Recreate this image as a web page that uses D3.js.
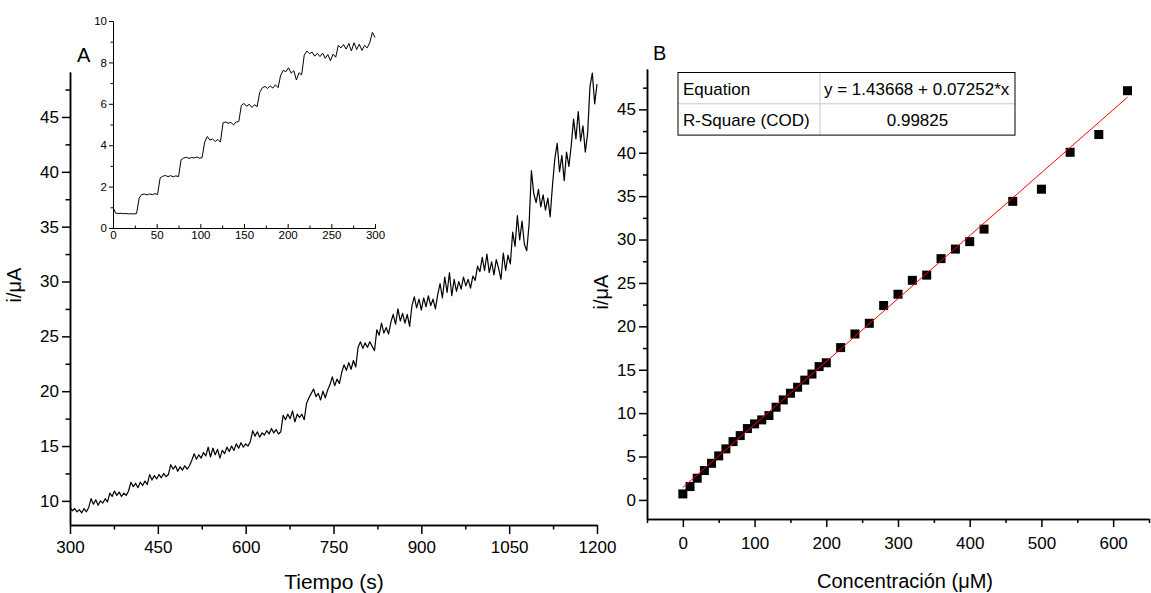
<!DOCTYPE html>
<html>
<head>
<meta charset="utf-8">
<script src="https://cdn.jsdelivr.net/npm/d3@7"></script>
<style>
  body { margin: 0; background: #fff; }
  svg { display: block; font-family: "Liberation Sans", Arial, sans-serif; }
</style>
</head>
<body>
<svg id="chart" width="1151" height="593"></svg>
<script>
// ---- panel A: amperometric trace, 300..1200 s, one reading every 4 s
const mainStartT = 300;
const mainStepT = 4;
const mainCurrent = [
  9.4, 9.1, 9.3, 9.0, 9.2, 8.9, 9.3, 9.0, 9.4, 10.2,
  9.7, 10.1, 9.6, 10.0, 9.8, 10.2, 9.9, 10.7, 10.4, 10.9,
  10.5, 10.8, 10.4, 10.7, 10.5, 10.9, 11.7, 11.3, 11.6, 11.2,
  11.7, 11.4, 11.8, 11.5, 12.4, 11.9, 12.3, 12.0, 12.4, 12.1,
  12.5, 12.2, 12.4, 13.3, 12.9, 13.2, 12.7, 13.1, 12.8, 13.2,
  12.9, 13.2, 13.7, 14.3, 13.8, 14.2, 13.9, 14.4, 14.1, 14.9,
  14.0, 14.8, 14.2, 14.7, 13.9, 14.6, 14.3, 14.9, 14.5, 15.0,
  14.6, 15.2, 14.8, 15.3, 14.9, 15.2, 15.0, 15.4, 16.4, 15.9,
  16.3, 15.8, 16.2, 16.0, 16.4, 16.1, 16.6, 16.2, 16.5, 16.1,
  16.3, 17.8, 17.4, 17.9, 17.5, 18.2, 17.2, 17.9, 17.6, 17.9,
  17.4, 18.9, 19.4, 19.8, 20.2, 19.5, 19.8, 19.2, 20.0, 19.4,
  20.1, 20.6, 21.3, 20.5, 21.1, 20.7, 21.7, 22.4, 21.9, 22.6,
  22.0, 22.8, 22.2, 24.0, 24.5, 23.9, 24.4, 24.0, 24.5, 24.1,
  23.7, 25.6, 25.1, 26.2, 25.3, 25.8, 25.2, 26.3, 27.0, 26.1,
  27.5, 26.4, 27.1, 26.2, 27.0, 25.9, 27.8, 28.6, 27.6, 28.4,
  27.4, 28.5, 27.7, 28.7, 27.8, 28.4, 27.5, 28.8, 29.8, 28.5,
  30.4, 29.0, 30.8, 28.7, 30.2, 29.1, 30.0, 29.3, 30.4, 29.6,
  30.2, 29.4, 30.5, 30.1, 31.4, 30.9, 32.2, 31.0, 32.5, 30.8,
  31.8, 30.6, 32.0, 31.2, 30.2, 32.6, 31.0, 32.4, 31.6, 34.5,
  33.2, 36.0, 33.8, 35.5, 33.4, 32.8, 35.2, 40.1, 38.0, 37.2,
  38.4, 36.8, 37.9, 36.5, 37.6, 35.9, 38.8, 41.2, 42.6, 40.0,
  41.5, 39.2, 41.8, 40.5, 42.4, 44.8, 43.0, 45.5, 42.8, 44.2,
  41.8, 43.5, 47.8, 49.0, 46.2, 48.0
];
const mainXTicks = [300, 450, 600, 750, 900, 1050, 1200];
const mainYTicks = [10, 15, 20, 25, 30, 35, 40, 45];

// ---- inset: first 300 s, one reading every 3 s
const insetStepT = 3;
const insetCurrent = [
  1.0, 0.72, 0.70, 0.71, 0.69, 0.70, 0.68, 0.69, 0.68, 0.70,
  1.45, 1.62, 1.64, 1.60, 1.65, 1.61, 1.66, 1.62,
  2.42, 2.50, 2.54, 2.48, 2.53, 2.47, 2.52, 2.48,
  3.30, 3.38, 3.42, 3.36, 3.41, 3.38, 3.43, 3.37, 3.40,
  4.15, 4.42, 4.25, 4.30, 4.18, 4.28, 4.15,
  5.08, 5.12, 5.06, 5.10, 4.98, 5.12, 5.14,
  5.92, 6.02, 5.88, 5.98, 5.82, 5.96, 5.86,
  6.55, 6.78, 6.84, 6.74, 6.86, 6.76, 6.92, 6.78,
  7.38, 7.62, 7.55, 7.74, 7.48, 7.60, 7.15, 7.50, 7.40,
  8.35, 8.55, 8.42, 8.50, 8.30, 8.44, 8.28, 8.45, 8.20, 8.38, 8.08, 8.40, 8.25,
  8.82, 8.70, 8.86, 8.64, 8.92, 8.55, 8.95, 8.62, 8.88, 8.58, 8.82, 8.70, 8.95,
  9.45, 9.20
];
const insetXTicks = [0, 50, 100, 150, 200, 250, 300];
const insetYTicks = [0, 2, 4, 6, 8, 10];

// ---- panel B: calibration
const calConc = [
  0, 10, 20, 30, 40, 50, 60, 70, 80, 90, 100, 110, 120, 130, 140, 150, 160, 170, 180, 190, 200,
  220, 240, 260, 280, 300, 320, 340, 360, 380, 400, 420,
  460, 500, 540, 580, 620
];
const calCurrent = [
  0.69, 1.54, 2.5, 3.38, 4.22, 5.07, 5.88, 6.72, 7.41, 8.22, 8.76, 9.22, 9.72, 10.68, 11.52, 12.29, 12.98, 13.8, 14.5, 15.36, 15.8,
  17.55, 19.12, 20.35, 22.4, 23.7, 25.3, 25.9, 27.8, 28.9, 29.76, 31.2,
  34.4, 35.8, 40.05, 42.1, 47.15
];
const fitIntercept = 1.43668;
const fitSlope = 0.07252;
const fitTable = [
  ["Equation", "y = 1.43668 + 0.07252*x"],
  ["R-Square (COD)", "0.99825"]
];
const calXTicks = [0, 100, 200, 300, 400, 500, 600];
const calYTicks = [0, 5, 10, 15, 20, 25, 30, 35, 40, 45];

const svg = d3.select("#chart");

function styleAxis(g, width, fontSize) {
  g.attr("font-family", null).attr("font-size", null);
  g.selectAll("path, line").attr("stroke", "#000").attr("stroke-width", width);
  g.selectAll("text").attr("fill", "#000").style("font-size", fontSize + "px");
}

function midpoints(ticks) {
  const out = [];
  for (let i = 0; i < ticks.length - 1; i++) out.push((ticks[i] + ticks[i + 1]) / 2);
  return out;
}

// ================= panel A =================
const xA = d3.scaleLinear().domain([300, 1200]).range([70, 597]);
const yA = d3.scaleLinear().domain([7.8, 49.1]).range([525, 72]);

const mainMinorY = midpoints(mainYTicks).concat([47.5]);
const mainMinorX = midpoints(mainXTicks);

svg.append("g").attr("transform", "translate(0,525)")
  .call(d3.axisBottom(xA).tickValues(mainMinorX).tickSize(4.5).tickSizeOuter(0).tickFormat(""))
  .call(styleAxis, 1.5, 17);
svg.append("g").attr("transform", "translate(0,525)")
  .call(d3.axisBottom(xA).tickValues(mainXTicks).tickSize(9).tickPadding(7).tickSizeOuter(0).tickFormat(d3.format("d")))
  .call(styleAxis, 1.5, 17);
svg.append("g").attr("transform", "translate(70,0)")
  .call(d3.axisLeft(yA).tickValues(mainMinorY).tickSize(4.5).tickSizeOuter(0).tickFormat(""))
  .call(styleAxis, 1.5, 17);
svg.append("g").attr("transform", "translate(70,0)")
  .call(d3.axisLeft(yA).tickValues(mainYTicks).tickSize(8).tickPadding(3).tickSizeOuter(0).tickFormat(d3.format("d")))
  .call(styleAxis, 1.5, 17);

const lineA = d3.line()
  .x((d, i) => xA(mainStartT + i * mainStepT))
  .y((d) => yA(d));

svg.append("path")
  .datum(mainCurrent)
  .attr("d", lineA)
  .attr("fill", "none")
  .attr("stroke", "#000")
  .attr("stroke-width", 1.2)
  .attr("stroke-linejoin", "round");

svg.append("text").attr("x", 77).attr("y", 62).style("font-size", "20px").text("A");

svg.append("text")
  .attr("transform", "translate(21,285) rotate(-90)")
  .attr("text-anchor", "middle")
  .style("font-size", "20px")
  .text("i/μA");

svg.append("text")
  .attr("x", 334).attr("y", 589)
  .attr("text-anchor", "middle")
  .style("font-size", "21px")
  .text("Tiempo (s)");

// ---- inset
const xI = d3.scaleLinear().domain([0, 300]).range([113, 375]);
const yI = d3.scaleLinear().domain([0, 10]).range([228, 21]);

svg.append("g").attr("transform", "translate(0,228)")
  .call(d3.axisBottom(xI).tickValues(midpoints(insetXTicks)).tickSize(-2.5).tickSizeOuter(0).tickFormat(""))
  .call(styleAxis, 1, 11.5);
svg.append("g").attr("transform", "translate(0,228)")
  .call(d3.axisBottom(xI).tickValues(insetXTicks).tickSize(-4).tickPadding(3).tickSizeOuter(0).tickFormat(d3.format("d")))
  .call(styleAxis, 1, 11.5);
svg.append("g").attr("transform", "translate(113,0)")
  .call(d3.axisLeft(yI).tickValues(midpoints(insetYTicks)).tickSize(2.5).tickSizeOuter(0).tickFormat(""))
  .call(styleAxis, 1, 11.5);
svg.append("g").attr("transform", "translate(113,0)")
  .call(d3.axisLeft(yI).tickValues(insetYTicks).tickSize(4).tickPadding(2).tickSizeOuter(0).tickFormat(d3.format("d")))
  .call(styleAxis, 1, 11.5);

const lineI = d3.line()
  .x((d, i) => xI(i * insetStepT))
  .y((d) => yI(d));

svg.append("path")
  .datum(insetCurrent)
  .attr("d", lineI)
  .attr("fill", "none")
  .attr("stroke", "#000")
  .attr("stroke-width", 1)
  .attr("stroke-linejoin", "round");

// ================= panel B =================
const xB = d3.scaleLinear().domain([-50, 650]).range([647, 1149]);
const yB = d3.scaleLinear().domain([-2.2, 49.65]).range([519, 69]);

const calMinorX = [-50].concat(midpoints(calXTicks), [650]);
const calMinorY = midpoints(calYTicks).concat([47.5]);

svg.append("g").attr("transform", "translate(0,519)")
  .call(d3.axisBottom(xB).tickValues(calMinorX).tickSize(4).tickSizeOuter(0).tickFormat(""))
  .call(styleAxis, 1.5, 17);
svg.append("g").attr("transform", "translate(0,519)")
  .call(d3.axisBottom(xB).tickValues(calXTicks).tickSize(8).tickPadding(10).tickSizeOuter(0).tickFormat(d3.format("d")))
  .call(styleAxis, 1.5, 17);
svg.append("g").attr("transform", "translate(647,0)")
  .call(d3.axisLeft(yB).tickValues(calMinorY).tickSize(4).tickSizeOuter(0).tickFormat(""))
  .call(styleAxis, 1.5, 17);
svg.append("g").attr("transform", "translate(647,0)")
  .call(d3.axisLeft(yB).tickValues(calYTicks).tickSize(8).tickPadding(3).tickSizeOuter(0).tickFormat(d3.format("d")))
  .call(styleAxis, 1.5, 17);

const pts = calConc.map((c, i) => ({ c, v: calCurrent[i] }));
const sq = 9;
svg.append("g")
  .selectAll("rect")
  .data(pts)
  .join("rect")
  .attr("x", (d) => xB(d.c) - sq / 2)
  .attr("y", (d) => yB(d.v) - sq / 2)
  .attr("width", sq)
  .attr("height", sq)
  .attr("fill", "#000");

const fitEnds = [d3.min(calConc), d3.max(calConc)];
svg.append("line")
  .attr("x1", xB(fitEnds[0]))
  .attr("y1", yB(fitIntercept + fitSlope * fitEnds[0]))
  .attr("x2", xB(fitEnds[1]))
  .attr("y2", yB(fitIntercept + fitSlope * fitEnds[1]))
  .attr("stroke", "#ff0000")
  .attr("stroke-width", 1);

// fit table
const tbl = { x: 678, y: 72.5, w: 337, rowH: 31.3, col: 142 };
const tg = svg.append("g");
tg.append("line")
  .attr("x1", tbl.x).attr("x2", tbl.x + tbl.w)
  .attr("y1", tbl.y + tbl.rowH).attr("y2", tbl.y + tbl.rowH)
  .attr("stroke", "#c8c8c8").attr("stroke-width", 1);
tg.append("line")
  .attr("x1", tbl.x + tbl.col).attr("x2", tbl.x + tbl.col)
  .attr("y1", tbl.y).attr("y2", tbl.y + 2 * tbl.rowH)
  .attr("stroke", "#c8c8c8").attr("stroke-width", 1);
tg.append("rect")
  .attr("x", tbl.x).attr("y", tbl.y)
  .attr("width", tbl.w).attr("height", 2 * tbl.rowH)
  .attr("fill", "none").attr("stroke", "#000").attr("stroke-width", 1);

fitTable.forEach((row, i) => {
  const base = tbl.y + i * tbl.rowH + 22.5;
  tg.append("text").attr("x", tbl.x + 5).attr("y", base)
    .style("font-size", "17px").text(row[0]);
  tg.append("text")
    .attr("x", i === 0 ? tbl.x + tbl.col + 4 : tbl.x + tbl.col + (tbl.w - tbl.col) / 2)
    .attr("y", base)
    .attr("text-anchor", i === 0 ? "start" : "middle")
    .style("font-size", "17px").text(row[1]);
});

svg.append("text").attr("x", 653).attr("y", 60).style("font-size", "20px").text("B");

svg.append("text")
  .attr("transform", "translate(608,292) rotate(-90)")
  .attr("text-anchor", "middle")
  .style("font-size", "20px")
  .text("i/μA");

svg.append("text")
  .attr("x", 905).attr("y", 588)
  .attr("text-anchor", "middle")
  .style("font-size", "20px")
  .text("Concentración (μM)");
</script>
</body>
</html>
